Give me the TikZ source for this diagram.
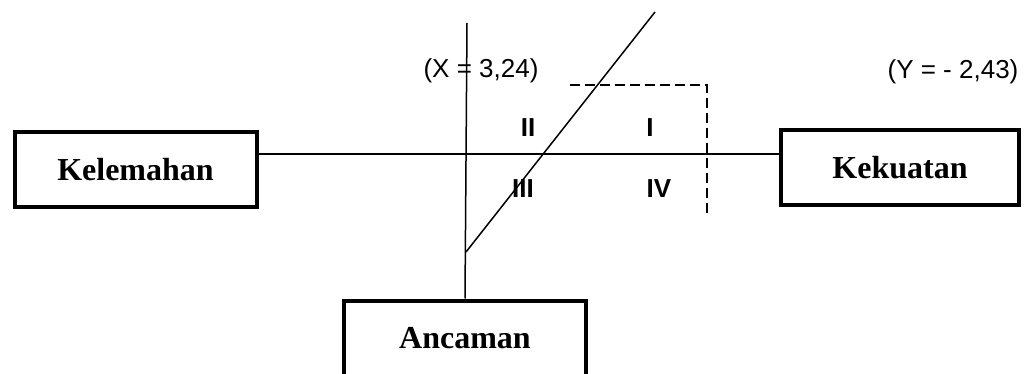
\documentclass[tikz,border=0pt]{standalone}
\usepackage{fontspec}
\setmainfont{Liberation Serif}
\setsansfont{Liberation Sans}
\usepackage{tikz}
\usetikzlibrary{positioning,calc}

\begin{document}
\begin{tikzpicture}[
      x=0.5pt, y=-0.5pt,
      box/.style={rectangle, draw=black, line width=2pt, fill=white, minimum height=37.5pt,
                  inner sep=0pt, font=\fontsize{16}{18}\selectfont\bfseries},
      axis/.style={line width=0.75pt},
      lbl/.style={font=\sffamily\fontsize{13}{15}\selectfont, inner sep=0pt},
      quad/.style={font=\sffamily\fontsize{13}{15}\selectfont\bfseries, inner sep=0pt},
    ]
    \useasboundingbox (0,0) rectangle (1024,374);

    \node[box, minimum width=121pt] (kel) at (135.5,170) {Kelemahan};
    \node[box, minimum width=119pt] (kek) at (900,168) {Kekuatan};
    \node[box, minimum width=121pt] (anc) at (465,338) {Ancaman};

    \coordinate (o) at (466,154);
    \coordinate (top) at (467,23);
    \coordinate (d1) at (466,252);
    \coordinate (d2) at (655,12);
    \coordinate (q1) at (570,85);
    \coordinate (q2) at (707,85);
    \coordinate (q3) at (707,215);

    \draw[axis] (kel.east |- o) -- (kek.west |- o);
    \draw[axis] (top) -- (anc.north);
    \draw[axis] (d1) -- (d2);
    \draw[axis, dash pattern=on 5pt off 2.5pt] (q1) -- (q2) -- (q3);

    \node[lbl] (x) at (481,71) {(X = 3,24)};
    \node[lbl] (y) at (953,72) {(Y = - 2,43)};
    \node[quad] (qi) at (650,128) {I};
    \node[quad] (qii) at (528,128) {II};
    \node[quad] (qiii) at (523,189) {III};
    \node[quad] (qiv) at (659,189) {IV};
  \end{tikzpicture}
\end{document}
